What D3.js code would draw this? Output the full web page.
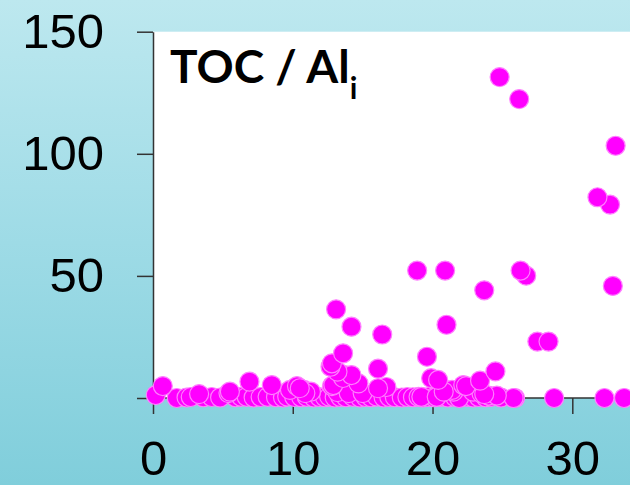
<!DOCTYPE html>
<html>
<head>
  <meta charset="UTF-8">
  <meta name="viewport" content="width=device-width, initial-scale=1.0">
  <style>
    body { margin: 0; overflow: hidden; }
  </style>
</head>
<script type='text/javascript' src='https://d3js.org/d3.v7.min.js'></script>
<body>
<script>
// x values (depth-like index) and TOC / Al_i values
const xVals = [
  1.7, 2.4, 2.7, 3.6, 4.2, 4.8, 5.9, 6.3, 6.7, 7.2, 7.7, 8.2, 8.8, 9.3, 9.6, 10.1,
  10.6, 11.0, 11.5, 11.9, 12.3, 12.6, 13.0, 13.4, 13.8, 14.3, 14.8, 15.2, 15.6, 16.0,
  16.5, 16.9, 17.3, 17.8, 18.2, 18.6, 19.0, 19.3, 19.7, 20.1, 20.6, 21.1, 21.6, 22.0,
  22.5, 22.9, 23.3, 23.8, 24.2, 24.9, 25.9, 28.7, 32.3, 33.7,
  19.2, 20.3, 21.9, 25.8, 24.0, 24.6,
  0.2, 3.3, 5.4, 5.5, 9.8, 10.8, 11.3, 10.9, 13.2, 14.0, 15.0, 20.9, 21.5, 22.9, 23.5,
  23.7, 21.4, 20.8,
  0.7, 6.9, 8.5, 10.3, 10.5, 12.8, 12.9, 16.7, 16.1, 22.2, 22.4, 14.7, 23.4,
  19.9, 20.4, 13.7, 13.6, 14.2, 13.2, 12.7, 16.1, 12.8, 24.5, 19.6, 13.6,
  27.5, 28.3, 16.4, 21.0, 14.2, 13.1, 23.7, 26.7, 26.3, 20.9, 18.9, 32.9,
  32.7, 31.8, 33.1, 26.2, 24.8
];
const tocVals = [
  0, 0.2, 0.4, 0.3, 0.4, 0.2, 0.3, 0.5, 0.5, 0.2, 0.4, 0.5, 0.3, 0.2, 0.6, 0.4,
  0.3, 0.5, 0.2, 0.4, 0.3, 0.6, 0.2, 0.4, 0.3, 0.5, 0.2, 0.4, 0.3, 0.6,
  0.2, 0.4, 0.3, 0.2, 0.4, 0.3, 0.5, 0.2, 0.4, 0.3, 0.5, 0.2, 0.4, 0.3,
  0.5, 0.2, 0.4, 0.3, 0.5, 0.2, 0, 0, 0, 0,
  0.5, 0.5, 0, 0, 1.0, 1.0,
  1.2, 1.6, 2.0, 2.6, 3.3, 3.3, 2.6, 2.0, 2.4, 2.0, 2.0, 3.3, 2.6, 2.6, 1.9,
  1.6, 3.3, 2.6,
  4.9, 6.7, 5.3, 4.9, 4.0, 4.9, 5.3, 4.5, 4.0, 5.3, 4.9, 6.0, 7.1,
  8.1, 7.4, 9.4, 8.2, 9.4, 10.8, 12.8, 12.0, 14.2, 10.9, 16.9, 18.3,
  23.1, 23.1, 26.0, 30.0, 29.2, 36.3, 44.1, 50.1, 52.2, 52.2, 52.2, 45.9,
  79.2, 82.2, 103.3, 122.4, 131.4
];
const xTicks = [0, 10, 20, 30];
const yTicks = [0, 50, 100, 150];
const yLabels = [50, 100, 150];

const W = 630, H = 485;
const plotLeft = 153, plotTop = 31.7, plotBottom = 398;

var svg = d3.select('body')
  .append("svg")
    .attr("width", W)
    .attr("height", H);

// background gradient
var grad = svg.append("defs").append("linearGradient")
    .attr("id", "bg")
    .attr("x1", 0).attr("y1", 0).attr("x2", 0).attr("y2", 1);
grad.append("stop").attr("offset", "0%").attr("stop-color", "#bde8ef");
grad.append("stop").attr("offset", "50%").attr("stop-color", "#9edbe6");
grad.append("stop").attr("offset", "100%").attr("stop-color", "#80cedb");

svg.append("rect")
    .attr("width", W).attr("height", H)
    .attr("fill", "url(#bg)");

var x = d3.scaleLinear()
  .domain([0, 30])
  .range([plotLeft, 572.3]);

var y = d3.scaleLinear()
  .domain([0, 150])
  .range([plotBottom, plotTop]);

// plot area
svg.append("rect")
    .attr("x", plotLeft).attr("y", plotTop)
    .attr("width", W - plotLeft).attr("height", plotBottom - plotTop)
    .attr("fill", "#ffffff");

var xAxis = svg.append("g")
    .attr("transform", "translate(0," + plotBottom + ")")
    .call(d3.axisBottom(x).tickValues(xTicks).tickSize(16).tickPadding(26).tickSizeOuter(0));
xAxis.select(".domain").attr("d", "M" + plotLeft + ",0H" + W);

var yAxis = svg.append("g")
    .attr("transform", "translate(" + plotLeft + ",0)")
    .call(d3.axisLeft(y).tickValues(yTicks).tickSize(16).tickPadding(33).tickSizeOuter(0)
      .tickFormat(function(d) { return yLabels.indexOf(d) >= 0 ? d : ""; }));

svg.selectAll(".domain, .tick line")
    .attr("stroke", "#333333")
    .attr("stroke-width", 1.5);

svg.selectAll(".tick text")
    .attr("fill", "#000000")
    .style("font-family", "'Liberation Sans', Arial, sans-serif")
    .style("font-size", "49px");
xAxis.selectAll(".tick text").attr("dy", "0.71em");

// points
var pts = xVals.map(function(d, i) { return {x: d, y: tocVals[i]}; });
svg.append("g")
  .selectAll("circle")
  .data(pts)
  .join("circle")
    .attr("cx", function(d) { return x(d.x); })
    .attr("cy", function(d) { return y(d.y); })
    .attr("r", 9.5)
    .attr("fill", "#ff00ff")
    .attr("stroke", "#ff80ff")
    .attr("stroke-width", 1.2);

// title
var title = svg.append("text")
    .attr("x", 170)
    .attr("y", 83)
    .style("font-family", "Lato, 'Open Sans', sans-serif")
    .style("font-weight", "bold")
    .style("font-size", "46px")
    .attr("fill", "#000000")
    .text("TOC / Al");
title.append("tspan")
    .attr("dy", 16)
    .style("font-size", "30px")
    .text("i");
</script>
</body>
</html>
